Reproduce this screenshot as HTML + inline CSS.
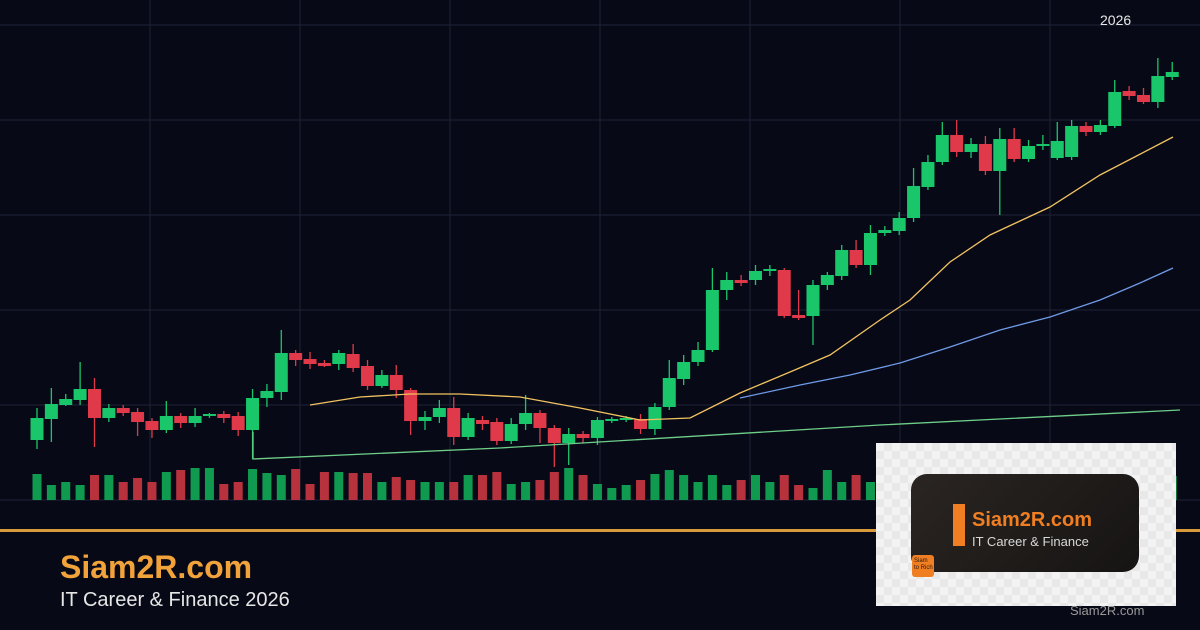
<!DOCTYPE html>
<html><head><meta charset="utf-8"><style>
html,body{margin:0;padding:0;background:#070a16;}
#c{position:relative;width:1200px;height:630px;overflow:hidden;background:#070a16;font-family:"Liberation Sans",sans-serif;}
</style></head><body><div id="c">
<svg id="s" width="1200" height="630" style="position:absolute;left:0;top:0"></svg>
<div style="position:absolute;left:1100px;top:12px;color:#e8e8e8;font-size:14px">2026</div>
<div style="position:absolute;left:0;top:529px;width:1200px;height:3px;background:#d89a3a"></div>
<div style="position:absolute;left:60px;top:549px;color:#f2a23a;font-size:32px;font-weight:bold">Siam2R.com</div>
<div style="position:absolute;left:60px;top:589px;color:#e6e6e6;font-size:20px">IT Career &amp; Finance 2026</div>
<div style="position:absolute;left:876px;top:443px;width:300px;height:163px;background-color:#f3f3f3;background-image:linear-gradient(45deg,#e8e8e8 25%,transparent 25%,transparent 75%,#e8e8e8 75%),linear-gradient(45deg,#e8e8e8 25%,transparent 25%,transparent 75%,#e8e8e8 75%);background-size:16px 16px;background-position:0 0,8px 8px">
 <div style="position:absolute;left:35px;top:31px;width:228px;height:98px;border-radius:16px;background:linear-gradient(135deg,#2a2522,#161413)"></div>
 <div style="position:absolute;left:77px;top:61px;width:12px;height:42px;background:#f07e22"></div>
 <div style="position:absolute;left:96px;top:66px;color:#f07e22;font-size:20px;font-weight:bold;">Siam2R.com</div>
 <div style="position:absolute;left:96px;top:91px;color:#d8d8d8;font-size:13px">IT Career &amp; Finance</div>
 <div style="position:absolute;left:36px;top:112px;width:22px;height:22px;border-radius:3px;background:#f07e22;color:#2a1a10;font-size:6px;line-height:7px;padding:3px 0 0 2px;box-sizing:border-box">Siam<br>to Rich</div>
</div>
<div style="position:absolute;left:1070px;top:603px;color:#9a9a9a;font-size:13px">Siam2R.com</div>
</div>
<script>
var s=document.getElementById('s'),h='';
[150,300,450,600,750,900,1050].forEach(function(x){h+='<line x1="'+x+'" y1="0" x2="'+x+'" y2="500" stroke="#1c2236" stroke-width="1"/>';});
[25,120,215,310,405,500].forEach(function(y){h+='<line x1="0" y1="'+y+'" x2="1200" y2="'+y+'" stroke="#1c2236" stroke-width="1"/>';});
var c=[[1,418,440,408,449],[1,404,419,388,442],[1,399,405,394,406],[1,389,400,362,405],[0,389,418,378,447],[1,408,418,404,422],[0,408,413,405,416],[0,412,422,408,436],[0,421,430,418,438],[1,416,430,401,433],[0,416,423,413,428],[1,416,423,408,427],[1,414,416,413,418],[0,414,418,411,423],[0,416,430,412,436],[1,398,430,389,459],[1,391,398,384,407],[1,353,392,330,400],[0,353,360,350,366],[0,359,364,352,369],[0,363,366,360,367],[1,353,364,350,370],[0,354,368,344,372],[0,366,386,360,390],[1,375,386,370,388],[0,375,390,365,398],[0,390,421,388,435],[1,417,421,411,430],[1,408,417,400,423],[0,408,437,397,445],[1,418,437,413,440],[0,420,424,416,430],[0,422,441,418,445],[1,424,441,418,444],[1,413,424,395,430],[0,413,428,410,443],[0,428,443,425,467],[1,434,443,428,465],[0,434,438,431,443],[1,420,438,417,445],[1,419,421,417,423],[1,418,420,416,422],[0,419,429,414,434],[1,407,429,403,435],[1,378,407,360,410],[1,362,379,355,385],[1,350,362,342,366],[1,290,350,268,352],[1,280,290,272,300],[0,280,283,275,286],[1,271,280,265,285],[1,269,271,265,276],[0,270,316,268,318],[0,315,318,290,320],[1,285,316,280,345],[1,275,285,272,290],[1,250,276,245,280],[0,250,265,240,268],[1,233,265,225,275],[1,230,233,226,236],[1,218,231,212,235],[1,186,218,168,222],[1,162,187,155,190],[1,135,162,122,165],[0,135,152,120,157],[1,144,152,138,158],[0,144,171,136,175],[1,139,171,128,215],[0,139,159,128,162],[1,146,159,140,162],[1,144,146,135,150],[1,141,158,122,160],[1,126,157,120,160],[0,126,132,122,136],[1,125,132,120,135],[1,92,126,80,128],[0,91,96,86,100],[0,95,102,88,104],[1,76,102,58,108],[1,72,77,62,80]];
var vh=[26,15,18,15,25,25,18,22,18,28,30,32,32,16,18,31,27,25,31,16,28,28,27,27,18,23,20,18,18,18,25,25,28,16,18,20,28,32,25,16,12,15,20,26,30,25,18,25,15,20,25,18,25,15,12,30,18,25,18,25,28,30,28,25,28,24,25,28,26,25,28,22,24,26,18,28,30,25,22,24];
for(var i=0;i<c.length;i++){var x=37+i*14.37,d=c[i],col=d[0]?'#19c76a':'#e0394a',vc=d[0]?'#0f9a50':'#b8323e';
h+='<rect x="'+(x-4.5)+'" y="'+(500-vh[i])+'" width="9" height="'+vh[i]+'" fill="'+vc+'"/>';
h+='<line x1="'+x+'" y1="'+d[3]+'" x2="'+x+'" y2="'+d[4]+'" stroke="'+col+'" stroke-width="1.3"/>';
h+='<rect x="'+(x-6.5)+'" y="'+d[1]+'" width="13" height="'+Math.max(2,d[2]-d[1])+'" fill="'+col+'"/>';}
function pl(p,c){return '<polyline fill="none" stroke="'+c+'" stroke-width="1.3" points="'+p+'"/>';}
h+=pl('253,432 253,459 500,448 880,425 1180,410','#6fcf8a');
h+=pl('310,405 360,397 410,394 460,394 520,397 580,408 640,420 690,418 740,393 790,372 830,355 880,320 910,300 950,262 990,235 1050,207 1100,175 1173,137','#f2c262');
h+=pl('740,398 800,385 850,375 900,363 950,347 1000,330 1050,317 1100,300 1140,283 1173,268','#6f9ae8');
s.innerHTML=h;
</script>
</body></html>
